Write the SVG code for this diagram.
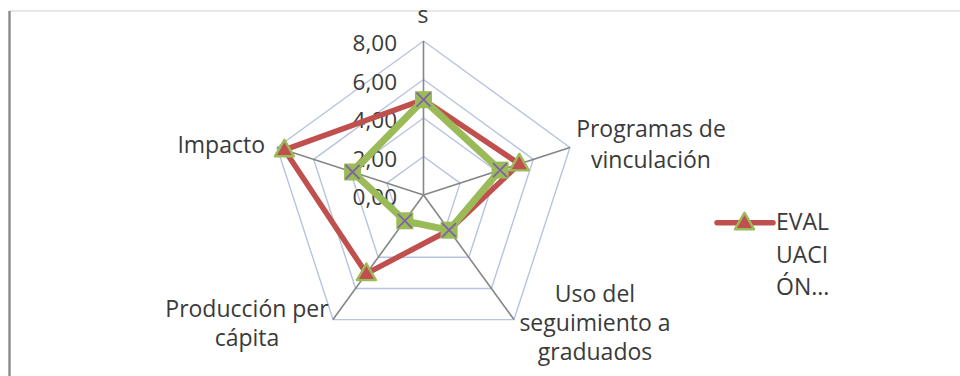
<svg xmlns="http://www.w3.org/2000/svg" width="960" height="376" viewBox="0 0 960 376">
<style>
  text { font-family: "Open Sans", "Noto Sans", sans-serif; font-size: 23px; fill: #3a3a3a; }
  .num { font-size: 22.5px; text-anchor: end; }
  .ring { fill: none; stroke: #b7c3df; stroke-width: 1.4; }
  .spoke { stroke: #868686; stroke-width: 1.6; }
  .red { fill: none; stroke: #c0504d; stroke-width: 5.5; stroke-linejoin: round; }
  .grn { fill: none; stroke: #9bbb59; stroke-width: 7; stroke-linejoin: round; }
  .sq { fill: #9bbb59; }
  .xm { stroke: #8064a2; stroke-width: 1.8; }
  .tri { fill: #c0504d; stroke: #9bbb59; stroke-width: 2.4; stroke-linejoin: round; }
</style>
<defs>
  <g id="tri"><polygon class="tri" points="0,-10 9.5,6.5 -9.5,6.5"/></g>
  <g id="sqx"><rect class="sq" x="-8.5" y="-8.5" width="17" height="17"/><path class="xm" d="M-7,-7 L7,7 M-7,7 L7,-7"/></g>
</defs>
<rect width="960" height="376" fill="#ffffff"/>
<g id="frame">
  <line x1="9" y1="11" x2="960" y2="11" stroke="#cfcfcf" stroke-width="1.2"/>
  <line x1="9.5" y1="11" x2="9.5" y2="376" stroke="#8a8a8a" stroke-width="2.4"/>
</g>
<g id="grid">
  <polygon class="ring" points="423.5,156.5 460.12,183.10 446.13,226.15 400.87,226.15 386.88,183.10"/>
  <polygon class="ring" points="423.5,118 496.73,171.21 468.76,257.29 378.24,257.29 350.27,171.21"/>
  <polygon class="ring" points="423.5,79.5 533.35,159.31 491.39,288.44 355.61,288.44 313.65,159.31"/>
  <polygon class="ring" points="423.5,41 569.96,147.41 514.02,319.59 332.98,319.59 277.04,147.41"/>
  <line class="spoke" x1="423.5" y1="195" x2="423.5" y2="41"/>
  <line class="spoke" x1="423.5" y1="195" x2="569.96" y2="147.41"/>
  <line class="spoke" x1="423.5" y1="195" x2="514.02" y2="319.59"/>
  <line class="spoke" x1="423.5" y1="195" x2="332.98" y2="319.59"/>
  <line class="spoke" x1="423.5" y1="195" x2="277.04" y2="147.41"/>
</g>
<g id="axis-values">
  <text class="num" x="397" y="51">8,00</text>
  <text class="num" x="397" y="89.5">6,00</text>
  <text class="num" x="397" y="128">4,00</text>
  <text class="num" x="397" y="166.5">2,00</text>
  <text class="num" x="397" y="205">0,00</text>
</g>
<g id="connectors">
  <polygon id="serie-evaluacion" class="red" points="423.5,99.7 519.3,163.9 449.1,230.2 366.4,273.6 284.4,149.8"/>
  <polygon id="serie-verde" class="grn" points="423.5,99.7 500.1,170.1 449.1,230.2 404.8,220.8 352.6,172.0"/>
</g>
<g id="markers-evaluacion">
  <use href="#tri" x="519.3" y="163.9"/>
  <use href="#tri" x="366.4" y="273.6"/>
  <use href="#tri" x="284.4" y="149.8"/>
</g>
<g id="markers-verde">
  <use href="#sqx" x="423.5" y="99.7"/>
  <use href="#sqx" x="500.1" y="170.1"/>
  <use href="#sqx" x="449.1" y="230.2"/>
  <use href="#sqx" x="404.8" y="220.8"/>
  <use href="#sqx" x="352.6" y="172.0"/>
</g>
<g id="label-top"><text x="423" y="23" text-anchor="middle">s</text></g>
<g id="label-programas">
  <text x="651" y="137" text-anchor="middle">Programas de</text>
  <text x="651" y="168" text-anchor="middle">vinculación</text>
</g>
<g id="label-uso">
  <text x="595" y="302" text-anchor="middle">Uso del</text>
  <text x="595" y="331" text-anchor="middle">seguimiento a</text>
  <text x="595" y="360" text-anchor="middle">graduados</text>
</g>
<g id="label-produccion">
  <text x="247" y="317" text-anchor="middle">Producción per</text>
  <text x="247" y="346" text-anchor="middle">cápita</text>
</g>
<g id="label-impacto"><text x="265" y="153" text-anchor="end">Impacto</text></g>
<g id="legend">
  <line x1="717" y1="222.7" x2="773" y2="222.7" stroke="#c0504d" stroke-width="5.5" stroke-linecap="round"/>
  <use href="#tri" x="744.5" y="222.7"/>
  <text x="776" y="230">EVAL</text>
  <text x="776" y="263">UACI</text>
  <text x="776" y="295">ÓN...</text>
</g>
</svg>
